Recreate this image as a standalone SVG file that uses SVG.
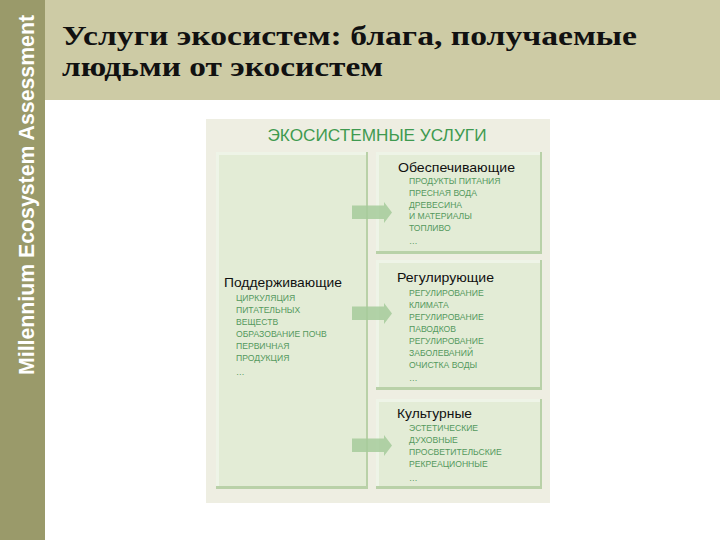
<svg xmlns="http://www.w3.org/2000/svg" width="720" height="540" viewBox="0 0 720 540">
<defs>
<style>
.hdr{font-family:"Liberation Sans",Arial,sans-serif;font-size:13px;fill:#111}
.itm{font-family:"Liberation Sans",Arial,sans-serif;font-size:8.6px;fill:#54995d}
.box{fill:#e3ecd6}
.hi{fill:#eef4e7}
.sh{fill:#b9d1a8}
.arr{fill:#a6cb9b;opacity:0.85}
</style>
</defs>
<rect x="0" y="0" width="720" height="540" fill="#ffffff"/>
<rect x="45" y="0" width="675" height="100" fill="#cdcba5"/>
<rect x="0" y="0" width="45" height="540" fill="#9a9a6a"/>
<text transform="translate(34,375) rotate(-90)" font-family="'Liberation Sans',Arial,sans-serif" font-weight="bold" font-size="22" fill="#ffffff" textLength="360" lengthAdjust="spacingAndGlyphs">Millennium Ecosystem Assessment</text>
<g id="title" font-family="'Liberation Serif','Times New Roman',serif" font-weight="bold" font-size="27" fill="#111" xml:space="preserve">
<text x="62" y="45" textLength="575" lengthAdjust="spacingAndGlyphs">Услуги экосистем:  блага, получаемые</text>
<text x="62" y="76" textLength="321" lengthAdjust="spacingAndGlyphs">людьми от экосистем</text>
</g>
<rect x="206" y="119" width="344" height="384" fill="#eeeee2"/>
<text x="377" y="141" text-anchor="middle" font-family="'Liberation Sans',Arial,sans-serif" font-size="16" fill="#3f9a50" textLength="219" lengthAdjust="spacingAndGlyphs">ЭКОСИСТЕМНЫЕ УСЛУГИ</text>
<g id="supporting">
<rect class="sh" x="216" y="152" width="152" height="337"/>
<rect class="hi" x="216" y="152" width="150" height="334"/>
<rect class="box" x="219" y="155" width="147" height="331"/>
<text class="hdr" x="224" y="287" textLength="118" lengthAdjust="spacingAndGlyphs">Поддерживающие</text>
<text class="itm" x="236" y="301">ЦИРКУЛЯЦИЯ</text>
<text class="itm" x="236" y="313">ПИТАТЕЛЬНЫХ</text>
<text class="itm" x="236" y="325">ВЕЩЕСТВ</text>
<text class="itm" x="236" y="337">ОБРАЗОВАНИЕ ПОЧВ</text>
<text class="itm" x="236" y="349">ПЕРВИЧНАЯ</text>
<text class="itm" x="236" y="361">ПРОДУКЦИЯ</text>
<text class="itm" x="236" y="375">…</text>
</g>
<g id="provisioning">
<rect class="sh" x="376" y="152" width="166" height="102"/>
<rect class="hi" x="376" y="152" width="164" height="99"/>
<rect class="box" x="379" y="155" width="161" height="96"/>
<text class="hdr" x="398" y="172" textLength="117" lengthAdjust="spacingAndGlyphs">Обеспечивающие</text>
<text class="itm" x="409" y="184">ПРОДУКТЫ ПИТАНИЯ</text>
<text class="itm" x="409" y="196">ПРЕСНАЯ ВОДА</text>
<text class="itm" x="409" y="208">ДРЕВЕСИНА</text>
<text class="itm" x="409" y="219">И МАТЕРИАЛЫ</text>
<text class="itm" x="409" y="231">ТОПЛИВО</text>
<text class="itm" x="409" y="244">…</text>
</g>
<g id="regulating">
<rect class="sh" x="376" y="260" width="166" height="130"/>
<rect class="hi" x="376" y="260" width="164" height="127"/>
<rect class="box" x="379" y="263" width="161" height="124"/>
<text class="hdr" x="397" y="282" textLength="97" lengthAdjust="spacingAndGlyphs">Регулирующие</text>
<text class="itm" x="409" y="296">РЕГУЛИРОВАНИЕ</text>
<text class="itm" x="409" y="308">КЛИМАТА</text>
<text class="itm" x="409" y="320">РЕГУЛИРОВАНИЕ</text>
<text class="itm" x="409" y="332">ПАВОДКОВ</text>
<text class="itm" x="409" y="344">РЕГУЛИРОВАНИЕ</text>
<text class="itm" x="409" y="356">ЗАБОЛЕВАНИЙ</text>
<text class="itm" x="409" y="368">ОЧИСТКА ВОДЫ</text>
<text class="itm" x="409" y="381">…</text>
</g>
<g id="cultural">
<rect class="sh" x="376" y="399" width="166" height="90"/>
<rect class="hi" x="376" y="399" width="164" height="87"/>
<rect class="box" x="379" y="402" width="161" height="84"/>
<text class="hdr" x="397" y="418" textLength="75" lengthAdjust="spacingAndGlyphs">Культурные</text>
<text class="itm" x="409" y="431">ЭСТЕТИЧЕСКИЕ</text>
<text class="itm" x="409" y="443">ДУХОВНЫЕ</text>
<text class="itm" x="409" y="455">ПРОСВЕТИТЕЛЬСКИЕ</text>
<text class="itm" x="409" y="467">РЕКРЕАЦИОННЫЕ</text>
<text class="itm" x="409" y="481">…</text>
</g>
<g id="connectors">
<path class="arr" d="M352,205.5 H384 V202 L392,212.5 L384,223 V219 H352 Z"/>
<path class="arr" d="M352,306.5 H384 V303 L392,313.5 L384,324 V320 H352 Z"/>
<path class="arr" d="M352,438.5 H384 V435 L392,445.5 L384,456 V452 H352 Z"/>
</g>
</svg>
